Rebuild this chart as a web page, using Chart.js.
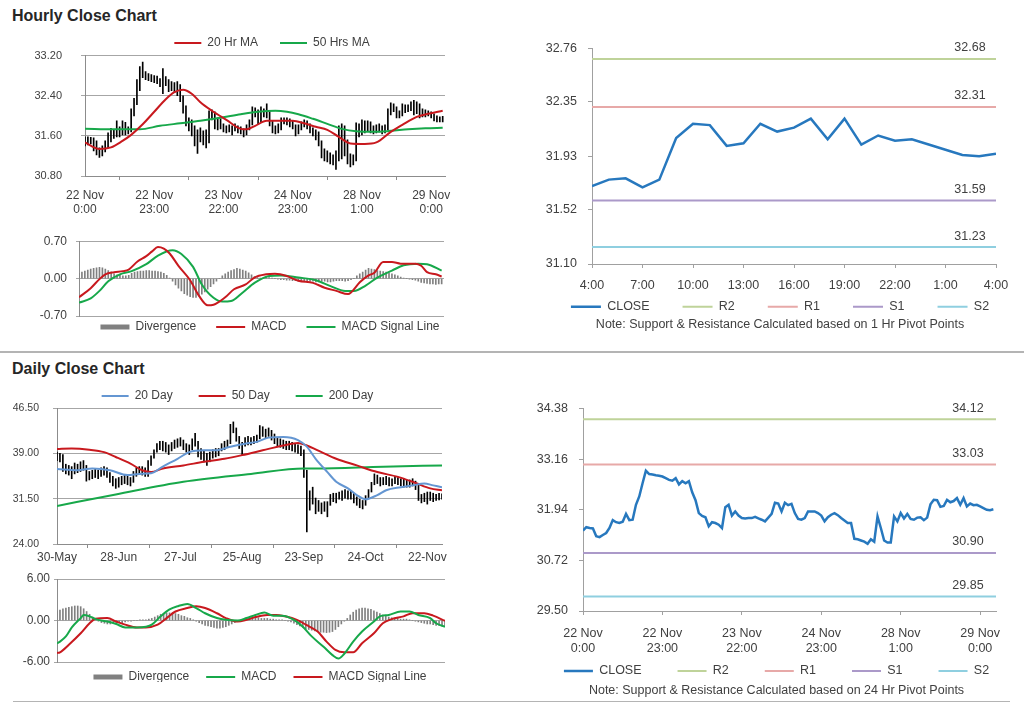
<!DOCTYPE html>
<html>
<head>
<meta charset="utf-8">
<title>Hourly and Daily Close Charts</title>
<script src="https://cdn.jsdelivr.net/npm/chart.js@4.4.1/dist/chart.umd.min.js"></script>
<style>
  body { margin: 0; background: #fff; width: 1024px; height: 706px; overflow: hidden; position: relative; font-family: 'Liberation Sans', Arial, sans-serif; }
  canvas { position: absolute; }
  .ttl { position: absolute; left: 12px; font-weight: bold; font-size: 16px; line-height: 18px; color: #262626; }
  .rule { position: absolute; height: 0; border-top: 2px solid #b4b4b4; }
</style>
</head>
<body>
<div class="ttl" style="top:7px">Hourly Close Chart</div>
<div class="rule" style="top:351px;left:0;width:1024px"></div>
<div class="ttl" style="top:360px">Daily Close Chart</div>
<div class="rule" style="top:701px;left:13px;width:997px;border-top-width:1px"></div>

<canvas id="hourPrice" width="544" height="191" style="left:0;top:30px"></canvas>
<canvas id="hourMacd" width="540" height="109" style="left:0;top:225px"></canvas>
<canvas id="lastDay" width="520" height="302" style="left:520px;top:30px"></canvas>
<canvas id="dayPrice" width="475" height="190" style="left:0;top:380px"></canvas>
<canvas id="dayMacd" width="520" height="117" style="left:0;top:565px"></canvas>
<canvas id="hourClose" width="513" height="308" style="left:520px;top:390px"></canvas>

<script>
/* ---------------- data ---------------- */

// hourly bars, 22 Nov 0:00 .. 29 Nov 4:00
var hourClose = [
  31.44,31.52,31.50,31.49,31.30,31.28,31.33,31.38,31.50,31.69,
  31.64,31.62,31.65,31.84,31.69,31.70,32.06,32.26,32.58,32.88,
  32.80,32.79,32.77,32.76,32.74,32.70,32.66,32.64,32.70,32.55,
  32.63,32.58,32.63,32.36,32.17,31.86,31.79,31.76,31.54,31.64,
  31.62,31.58,31.50,32.00,32.06,31.80,31.90,31.80,31.74,31.73,
  31.74,31.74,31.77,31.73,31.70,31.66,31.75,31.84,32.11,32.09,
  31.90,32.11,32.05,32.08,31.86,31.72,31.70,31.74,31.90,31.90,
  31.90,31.86,31.80,31.66,31.76,31.82,31.86,31.81,31.74,31.68,
  31.62,31.62,31.24,31.23,31.20,31.17,31.12,31.23,31.17,31.78,
  31.50,31.20,31.15,31.15,31.78,31.66,31.86,31.73,31.84,31.72,
  31.70,31.75,31.76,31.69,31.75,32.07,32.18,32.17,32.01,32.03,
  32.18,32.12,32.15,32.22,32.06,32.22,32.02,32.09,32.05,32.06,
  32.02,31.98,31.94,31.93,31.95
];
var hourHigh = [
  31.58,31.58,31.57,31.56,31.50,31.36,31.40,31.50,31.66,31.75,
  31.72,31.90,31.78,31.90,31.87,31.78,32.14,32.35,32.72,32.98,
  33.07,32.88,32.84,32.82,32.80,32.79,32.74,32.94,32.78,32.72,
  32.68,32.66,32.68,32.62,32.40,32.20,31.96,31.92,31.80,31.72,
  31.76,31.70,31.72,32.10,32.12,32.08,31.96,31.94,31.84,31.80,
  31.82,31.80,31.84,31.80,31.78,31.74,31.82,31.92,32.18,32.16,
  32.12,32.18,32.14,32.24,32.10,31.90,31.80,31.84,31.96,31.96,
  31.96,31.94,31.90,31.82,31.82,31.88,31.92,31.90,31.84,31.76,
  31.72,31.68,31.50,31.34,31.30,31.26,31.22,31.30,31.80,31.84,
  31.80,31.52,31.24,31.22,31.86,31.84,31.92,31.90,31.90,31.88,
  31.80,31.82,31.84,31.80,31.82,32.14,32.26,32.24,32.18,32.10,
  32.24,32.22,32.22,32.28,32.31,32.28,32.24,32.14,32.12,32.10,
  32.08,32.04,32.00,31.98,31.99
];
var hourLow = [
  31.40,31.42,31.44,31.30,31.22,31.17,31.20,31.28,31.36,31.48,
  31.55,31.58,31.58,31.62,31.62,31.64,31.68,32.00,32.22,32.50,
  32.76,32.72,32.70,32.68,32.66,32.64,32.58,32.44,32.60,32.48,
  32.50,32.46,32.40,32.28,32.05,31.80,31.70,31.60,31.40,31.25,
  31.48,31.42,31.36,31.46,31.92,31.74,31.72,31.74,31.68,31.66,
  31.68,31.62,31.70,31.66,31.64,31.58,31.62,31.72,31.82,31.98,
  31.84,31.88,31.98,31.96,31.80,31.66,31.64,31.66,31.72,31.84,
  31.82,31.78,31.74,31.60,31.64,31.72,31.78,31.74,31.66,31.60,
  31.52,31.40,31.16,31.10,31.08,31.04,31.02,30.93,31.10,31.14,
  31.20,31.04,30.98,31.02,31.10,31.58,31.62,31.66,31.70,31.66,
  31.64,31.66,31.68,31.64,31.66,31.72,32.02,32.08,31.96,31.96,
  32.00,32.06,32.08,32.10,32.02,32.04,31.96,31.98,31.98,32.00,
  31.96,31.90,31.88,31.88,31.88
];
// moving averages as [bar, value]
var ma20Hr = [[0,31.47],[5,31.34],[9,31.37],[13,31.50],[16,31.62],[20,31.83],[24,32.08],[28,32.33],
  [31,32.47],[34,32.52],[37,32.44],[40,32.27],[44,32.10],[49,31.92],[54,31.74],[56,31.73],[59,31.80],
  [63,31.90],[67,31.90],[72,31.90],[76,31.85],[80,31.78],[84,31.72],[88,31.58],[92,31.45],[97,31.44],
  [101,31.47],[106,31.68],[110,31.82],[115,31.98],[119,32.04],[124,32.10]];
var ma50Hr = [[0,31.74],[10,31.73],[19,31.73],[26,31.80],[33,31.85],[40,31.90],[47,31.96],[54,32.03],
  [60,32.08],[66,32.10],[70,32.08],[74,32.03],[79,31.94],[84,31.84],[89,31.74],[94,31.69],[100,31.68],
  [106,31.70],[112,31.73],[118,31.75],[124,31.76]];
var macdHr = [[0,-0.35],[4,-0.18],[7,-0.01],[9,0.08],[12,0.12],[15,0.14],[17,0.17],[20,0.32],[23,0.42],
  [25,0.51],[27,0.59],[29,0.56],[31,0.47],[34,0.24],[38,-0.03],[41,-0.32],[44,-0.50],[46,-0.49],[50,-0.35],
  [53,-0.20],[57,-0.11],[60,0.02],[64,0.08],[67,0.09],[71,0.05],[75,-0.04],[80,-0.08],[84,-0.17],[88,-0.23],
  [92,-0.29],[93,-0.26],[96,-0.07],[99,0.06],[101,0.11],[104,0.31],[107,0.31],[110,0.28],[115,0.28],
  [117,0.24],[119,0.12],[122,0.08],[124,0.04]];
var signalHr = [[0,-0.45],[4,-0.37],[7,-0.23],[10,-0.05],[14,0.08],[18,0.14],[23,0.27],[27,0.43],[32,0.53],
  [35,0.46],[39,0.22],[42,-0.11],[46,-0.36],[49,-0.43],[52,-0.42],[56,-0.26],[60,-0.08],[65,0.05],[69,0.06],
  [75,0.02],[81,-0.03],[86,-0.14],[91,-0.23],[94,-0.23],[98,-0.13],[102,0.02],[107,0.15],[111,0.25],
  [116,0.28],[119,0.27],[124,0.15]];
var diverHr = [
  0.10,0.12,0.14,0.16,0.18,0.19,0.20,0.21,0.20,0.18,
  0.15,0.12,0.09,0.07,0.06,0.05,0.05,0.06,0.10,0.12,
  0.13,0.14,0.14,0.15,0.15,0.14,0.14,0.13,0.12,0.10,
  0.06,0.01,-0.05,-0.12,-0.18,-0.23,-0.28,-0.31,-0.34,-0.35,
  -0.35,-0.33,-0.29,-0.25,-0.20,-0.15,-0.10,-0.05,0.00,0.05,
  0.09,0.12,0.15,0.17,0.19,0.18,0.16,0.14,0.11,0.07,
  0.04,0.02,0.01,0.01,0.02,0.02,0.01,0.00,-0.01,-0.02,
  -0.02,-0.03,-0.03,-0.04,-0.04,-0.05,-0.05,-0.04,-0.04,-0.05,
  -0.05,-0.06,-0.06,-0.05,-0.05,-0.06,-0.06,-0.05,-0.04,-0.04,
  -0.04,-0.05,-0.04,-0.02,0.00,0.05,0.09,0.12,0.16,0.19,
  0.18,0.17,0.15,0.14,0.13,0.12,0.11,0.09,0.07,0.05,
  0.03,0.01,0.00,-0.01,-0.02,-0.03,-0.05,-0.07,-0.08,-0.09,
  -0.10,-0.10,-0.11,-0.10,-0.10
];
var hourTickIdx = [0, 24, 48, 72, 96, 120];
var hourTickLabels = [['22 Nov','0:00'], ['22 Nov','23:00'], ['23 Nov','22:00'], ['24 Nov','23:00'], ['28 Nov','1:00'], ['29 Nov','0:00']];
var hourPriceTicks = [30.80, 31.60, 32.40, 33.20];
var macdHrTicks = [-0.70, 0.00, 0.70];

// last 24 hours and pivot levels
var lastDayTickIdx = [0, 3, 6, 9, 12, 15, 18, 21, 24];
var lastDayTickLabels = ['4:00','7:00','10:00','13:00','16:00','19:00','22:00','1:00','4:00'];
var lastDayTicks = [31.10, 31.52, 31.93, 32.35, 32.76];
var pivotNames = ['R2', 'R1', 'S1', 'S2'];
var pivot1Hr = [32.68, 32.31, 31.59, 31.23];
var pivot24Hr = [34.12, 33.03, 30.90, 29.85];
var hourCloseTicks = [29.50, 30.72, 31.94, 33.16, 34.38];

// daily bars, 30 May .. 29 Nov
var dayHigh = [
  39.2,39.0,38.8,37.2,37.0,36.8,37.4,37.2,37.6,37.8,
  37.0,36.0,36.2,36.4,36.2,36.6,36.8,36.6,35.8,35.2,
  34.8,35.0,35.2,35.4,35.2,35.0,36.0,36.6,36.8,36.8,
  36.6,37.8,38.6,39.6,40.6,41.0,41.0,40.8,40.4,40.8,
  41.2,41.4,41.6,41.2,40.6,40.4,41.4,42.3,41.0,39.8,
  39.4,39.0,39.2,39.6,39.8,39.8,40.6,41.0,41.2,43.8,
  44.2,43.2,41.8,40.8,41.6,41.8,41.6,41.8,42.0,43.6,
  43.4,43.0,43.2,42.8,42.2,41.6,41.4,41.2,41.0,41.0,
  40.8,40.6,40.4,40.2,39.6,36.2,32.8,33.4,31.6,31.2,
  30.8,31.0,31.0,32.2,32.4,32.4,32.6,32.8,33.0,32.8,
  32.8,32.4,31.8,31.4,31.2,32.0,33.0,34.2,35.6,35.4,
  35.0,35.0,35.2,35.0,34.8,35.2,35.0,34.8,34.8,34.6,
  34.6,34.8,34.4,33.8,32.2,32.4,32.6,32.6,32.4,32.2,
  32.4,32.3
];
var dayLow = [
  37.8,37.6,36.0,35.6,35.4,34.8,35.6,35.8,36.0,36.2,
  34.4,34.6,34.8,35.0,34.8,35.2,35.4,35.0,34.2,33.6,
  33.2,33.4,33.8,34.0,33.8,33.6,34.2,35.2,35.6,35.4,
  35.2,35.2,37.0,38.2,39.2,39.6,39.4,39.2,38.8,39.4,
  39.8,40.0,40.2,39.6,39.2,38.8,39.6,40.2,38.4,38.0,
  37.6,37.0,37.6,38.2,38.4,38.6,39.4,39.6,40.0,40.6,
  42.4,41.0,39.8,38.6,40.2,40.4,40.4,40.6,40.8,41.4,
  41.8,41.6,41.8,41.2,40.6,40.2,40.0,39.8,39.6,39.6,
  39.4,39.2,39.0,38.6,35.0,26.0,29.6,30.6,29.0,29.4,
  29.0,29.4,28.5,30.4,31.0,30.8,31.4,31.2,31.6,31.4,
  31.4,30.8,30.4,30.0,29.8,30.4,31.6,32.6,33.8,34.0,
  33.6,33.8,33.8,33.6,33.6,34.0,33.8,33.6,33.4,33.4,
  33.4,33.6,33.0,31.2,30.8,31.0,30.6,31.2,31.0,31.2,
  31.3,31.4
];
var ma20D = [[0,36.4],[7,36.2],[12,36.5],[18,36.2],[24,35.4],[28,35.6],[32,35.7],[36,36.8],[41,38.1],
  [45,39.2],[50,39.5],[54,39.5],[59,40.1],[64,40.6],[68,40.9],[72,41.6],[77,41.7],[82,41.2],[85,40.1],
  [88,38.1],[92,35.9],[95,34.3],[99,33.2],[102,32.1],[105,31.4],[109,32.1],[112,32.9],[117,33.4],
  [121,33.7],[125,34.0],[128,33.7],[131,33.4]];
var ma50D = [[0,39.7],[5,39.8],[11,39.6],[16,39.2],[20,38.4],[25,37.3],[29,36.2],[32,35.9],[36,36.5],
  [43,37.0],[50,37.6],[57,38.1],[63,38.7],[70,39.5],[77,40.3],[82,40.7],[85,40.3],[90,39.2],[95,38.1],
  [102,37.0],[109,35.9],[116,35.1],[122,34.1],[127,33.2],[131,32.9]];
var ma200D = [[0,30.3],[20,32.2],[43,34.3],[66,35.6],[84,36.5],[88,36.5],[111,36.8],[131,37.0]];
var macdD = [[0,-3.3],[1,-3.05],[3,-2.3],[5,-1.0],[8,0.35],[9,0.8],[11,0.6],[13,0.2],[17,-0.15],[20,-0.5],
  [23,-1.0],[27,-1.0],[30,-0.9],[32,-0.6],[35,0.6],[38,1.6],[41,2.1],[44,2.4],[47,1.8],[50,1.05],[54,0.35],
  [57,0.1],[61,0.0],[64,0.35],[67,0.8],[70,1.15],[73,0.7],[76,0.7],[80,0.1],[83,-0.9],[86,-2.3],[90,-3.8],
  [93,-5.0],[95,-5.5],[97,-4.8],[100,-3.05],[103,-1.6],[107,-0.15],[109,0.6],[112,0.8],[116,1.3],[119,1.3],
  [122,0.8],[126,0.35],[128,-0.4],[131,-0.9]];
var signalD = [[0,-4.7],[1,-4.6],[4,-3.5],[8,-1.85],[11,-0.4],[13,0.25],[17,0.35],[20,-0.15],[23,-0.6],
  [27,-1.0],[30,-1.0],[34,-0.6],[37,0.35],[40,1.3],[44,1.8],[47,2.05],[50,1.8],[54,1.05],[57,0.35],
  [61,-0.15],[64,0.1],[67,0.5],[71,0.8],[74,0.8],[77,0.6],[81,0.1],[84,-0.6],[88,-1.6],[91,-3.05],
  [94,-4.25],[97,-4.6],[100,-4.6],[103,-3.3],[107,-1.85],[110,-0.4],[113,0.2],[117,0.6],[120,1.05],
  [124,1.05],[127,0.7],[131,-0.05]];
var diverD = [
  1.4,1.5,1.7,1.8,1.9,2.0,2.1,2.1,2.0,1.7,
  1.3,0.9,0.5,0.2,-0.1,-0.3,-0.4,-0.5,-0.5,-0.4,
  -0.4,-0.3,-0.3,-0.2,-0.1,-0.1,0.0,0.0,0.1,0.1,
  0.1,0.2,0.3,0.5,0.7,0.9,1.0,1.1,1.1,1.1,
  1.0,0.9,0.7,0.6,0.4,0.3,0.1,-0.1,-0.3,-0.5,
  -0.7,-0.8,-0.9,-1.0,-1.1,-1.1,-1.0,-0.9,-0.7,-0.5,
  -0.3,-0.1,0.1,0.2,0.3,0.3,0.4,0.4,0.4,0.3,
  0.3,0.3,0.2,0.2,0.1,0.1,0.1,0.0,-0.1,-0.2,
  -0.4,-0.6,-0.8,-1.0,-1.2,-1.3,-1.4,-1.5,-1.6,-1.7,
  -1.7,-1.75,-1.7,-1.6,-1.3,-0.9,-0.5,-0.1,0.3,0.8,
  1.2,1.5,1.7,1.8,1.8,1.7,1.6,1.4,1.2,1.0,
  0.8,0.6,0.5,0.4,0.3,0.3,0.2,0.2,0.2,0.1,
  0.0,-0.1,-0.2,-0.3,-0.4,-0.5,-0.5,-0.6,-0.7,-0.7,
  -0.8,-0.8
];
var dayTickIdx = [0, 21, 42, 63, 84, 105, 126];
var dayTickLabels = ['30-May','28-Jun','27-Jul','25-Aug','23-Sep','24-Oct','22-Nov'];
var dayPriceTicks = [24.00, 31.50, 39.00, 46.50];
var macdDTicks = [-6.00, 0.00, 6.00];

/* ---------------- styles ---------------- */
var RED = '#c8191e', GREEN = '#17a84a', BLUE20 = '#6496d2', CLOSE_BLUE = '#2778be';
var PIVOT_COLORS = ['#bfd39a', '#e7a9a8', '#ab99c9', '#8fcfe0'];
var GRID = '#a6a6a6', AXIS = '#8c8c8c', AXIS_R = '#a0a0a0', DIV = '#808080';

Chart.defaults.font.family = "'Liberation Sans', Arial, sans-serif";
Chart.defaults.color = '#404040';
Chart.defaults.animation = false;
Chart.defaults.plugins.tooltip.enabled = false;

function pts(arr) { return arr.map(function (p) { return { x: p[0], y: p[1] }; }); }
function seq(arr) { return arr.map(function (v, i) { return { x: i, y: v }; }); }
function fixW(w) { return function (s) { s.width = w; }; }
function fixH(h) { return function (s) { s.height = h; }; }
function setTicks(arr) { return function (s) { s.ticks = arr.map(function (v) { return { value: v }; }); }; }
function fmt2(v) { return v.toFixed(2); }

function line(label, data, color, width) {
    return { label: label, data: data, borderColor: color, backgroundColor: color, borderWidth: width || 2,
             pointRadius: 0, pointStyle: 'line', cubicInterpolationMode: 'monotone' };
}

// empty axes used only to reserve space (so legends centre on the whole canvas)
function hiddenX(max) {
    return { type: 'linear', min: 0, max: max, offset: false, afterFit: fixH(0),
             ticks: { display: false }, grid: { display: false }, border: { display: false } };
}
function spacerRight(w) {
    return { axis: 'y', position: 'right', afterFit: fixW(w),
             ticks: { display: false }, grid: { display: false }, border: { display: false } };
}

// fixed legend height and text centre line
var legendPos = {
    id: 'legendPos',
    beforeLayout: function (chart, args, opts) {
        var lg = chart.legend;
        if (lg && !lg._fixed) {
            var fit = lg.fit;
            lg.fit = function () { fit.call(this); this.height = opts.height; };
            lg._fixed = true;
        }
    },
    afterLayout: function (chart, args, opts) {
        var lg = chart.legend;
        lg.top = opts.cy - lg.options.labels.padding - opts.fs / 2;
        lg.bottom = opts.cy + opts.fs;
    }
};

// value labels above the pivot lines
var levelLabels = {
    id: 'levelLabels',
    afterDatasetsDraw: function (chart, args, opts) {
        var ctx = chart.ctx, y = chart.scales.y;
        ctx.save();
        ctx.font = '12.5px ' + Chart.defaults.font.family;
        ctx.fillStyle = '#404040';
        ctx.textAlign = 'center';
        ctx.textBaseline = 'middle';
        opts.levels.forEach(function (v) {
            ctx.fillText(v.toFixed(2), chart.chartArea.right - opts.dx, y.getPixelForValue(v) - 11);
        });
        ctx.restore();
    }
};

function legendOpts(pos, boxW, pad, size, extra) {
    var o = { position: pos, labels: { usePointStyle: true, pointStyleWidth: boxW, boxHeight: 5, padding: pad,
              font: { size: size }, color: '#404040' } };
    if (extra) Object.assign(o.labels, extra);
    return o;
}
var byIndex = { sort: function (a, b) { return a.datasetIndex - b.datasetIndex; } };

/* ---------------- hourly close chart ---------------- */
new Chart(document.getElementById('hourPrice'), {
    type: 'line',
    data: {
        datasets: [
            line('20 Hr MA', pts(ma20Hr), RED),
            line('50 Hrs MA', pts(ma50Hr), GREEN),
            { type: 'bar', label: 'Price', backgroundColor: '#000', barThickness: 1,
              data: hourHigh.map(function (h, i) { return { x: i, y: [hourLow[i], h] }; }) }
        ]
    },
    options: {
        responsive: false,
        layout: { padding: 0 },
        plugins: {
            legend: legendOpts('top', 27, 22, 12, { filter: function (it) { return it.datasetIndex < 2; } }),
            legendPos: { height: 23, cy: 13, fs: 12 }
        },
        scales: {
            x: { type: 'linear', min: 0, max: 124.8, offset: false,
                 afterBuildTicks: setTicks(hourTickIdx), afterFit: fixH(45),
                 grid: { drawOnChartArea: false, tickLength: 4, color: AXIS }, border: { color: AXIS },
                 ticks: { autoSkip: false, maxRotation: 0, padding: 8, font: { size: 12 },
                          callback: function (v) { return hourTickLabels[hourTickIdx.indexOf(v)]; } } },
            y: { min: 30.8, max: 33.2, afterBuildTicks: setTicks(hourPriceTicks), afterFit: fixW(85),
                 grid: { color: GRID, tickLength: 4 }, border: { color: AXIS },
                 ticks: { padding: 19, font: { size: 11 }, callback: fmt2 } },
            yr: spacerRight(99)
        }
    },
    plugins: [legendPos]
});

new Chart(document.getElementById('hourMacd'), {
    type: 'line',
    data: {
        datasets: [
            { type: 'bar', label: 'Divergence', data: seq(diverHr), backgroundColor: DIV, barThickness: 1,
              pointStyle: 'rect', order: 3 },
            Object.assign(line('MACD', pts(macdHr), RED), { order: 1 }),
            Object.assign(line('MACD Signal Line', pts(signalHr), GREEN), { order: 2 })
        ]
    },
    options: {
        responsive: false,
        layout: { padding: { left: 0, right: 0, top: 15, bottom: 0 } },
        plugins: {
            legend: legendOpts('bottom', 29, 20, 12, byIndex),
            legendPos: { height: 18, cy: 102, fs: 12 }
        },
        scales: {
            x: hiddenX(124.8),
            y: { min: -0.7, max: 0.7, afterBuildTicks: setTicks(macdHrTicks), afterFit: fixW(79),
                 grid: { color: GRID, tickLength: 3 }, border: { color: AXIS },
                 ticks: { padding: 9, font: { size: 12 }, callback: fmt2 } },
            yr: spacerRight(96)
        }
    },
    plugins: [legendPos]
});

/* ---------------- last 24 hours with 1 hr pivots ---------------- */
function pivotSets(levels, xEnd) {
    return pivotNames.map(function (n, k) {
        return { label: n, data: [{ x: 0, y: levels[k] }, { x: xEnd, y: levels[k] }], borderColor: PIVOT_COLORS[k],
                 backgroundColor: PIVOT_COLORS[k], borderWidth: 2, pointRadius: 0, pointStyle: 'line' };
    });
}

new Chart(document.getElementById('lastDay'), {
    type: 'line',
    data: {
        datasets: [{ label: 'CLOSE', data: seq(hourClose.slice(-25)), borderColor: CLOSE_BLUE, backgroundColor: CLOSE_BLUE,
                     borderWidth: 2.5, pointRadius: 0, pointStyle: 'line' }].concat(pivotSets(pivot1Hr, 24))
    },
    options: {
        responsive: false,
        layout: { padding: { left: 0, right: 0, top: 17, bottom: 0 } },
        plugins: {
            legend: legendOpts('bottom', 30, 33, 12.5),
            legendPos: { height: 20, cy: 276.7, fs: 12.5 },
            title: { display: true, position: 'bottom', text: 'Note: Support & Resistance Calculated based on 1 Hr Pivot Points',
                     font: { size: 12.5, weight: 'normal' }, color: '#404040', padding: { top: 3, bottom: 0 } },
            levelLabels: { levels: pivot1Hr, dx: 26 }
        },
        scales: {
            x: { type: 'linear', min: 0, max: 24, afterBuildTicks: setTicks(lastDayTickIdx), afterFit: fixH(30),
                 grid: { drawOnChartArea: false, tickLength: 4, color: AXIS_R }, border: { color: AXIS_R },
                 ticks: { autoSkip: false, maxRotation: 0, padding: 10, font: { size: 12.5 },
                          callback: function (v) { return lastDayTickLabels[lastDayTickIdx.indexOf(v)]; } } },
            y: { min: 31.10, max: 32.76, afterBuildTicks: setTicks(lastDayTicks), afterFit: fixW(72),
                 grid: { drawOnChartArea: false, tickLength: 4, color: AXIS_R }, border: { color: AXIS_R },
                 ticks: { padding: 11, font: { size: 12.5 }, callback: fmt2 } },
            yr: spacerRight(44)
        }
    },
    plugins: [legendPos, levelLabels]
});

/* ---------------- daily close chart ---------------- */
new Chart(document.getElementById('dayPrice'), {
    type: 'line',
    data: {
        datasets: [
            line('20 Day', pts(ma20D), BLUE20),
            line('50 Day', pts(ma50D), RED),
            line('200 Day', pts(ma200D), GREEN),
            { type: 'bar', label: 'Price', backgroundColor: '#000', barThickness: 1,
              data: dayHigh.map(function (h, i) { return { x: i, y: [dayLow[i], h] }; }) }
        ]
    },
    options: {
        responsive: false,
        layout: { padding: 0 },
        plugins: {
            legend: legendOpts('top', 27, 26, 12, { filter: function (it) { return it.datasetIndex < 3; } }),
            legendPos: { height: 28, cy: 16, fs: 12 }
        },
        scales: {
            x: { type: 'linear', min: 0, max: 131, offset: false,
                 afterBuildTicks: setTicks(dayTickIdx), afterFit: fixH(26),
                 grid: { drawOnChartArea: false, tickLength: 4, color: AXIS }, border: { color: AXIS },
                 ticks: { autoSkip: false, maxRotation: 0, padding: 2, font: { size: 12 },
                          callback: function (v) { return dayTickLabels[dayTickIdx.indexOf(v)]; } } },
            y: { min: 24, max: 46.5, afterBuildTicks: setTicks(dayPriceTicks), afterFit: fixW(57),
                 grid: { color: GRID, tickLength: 4 }, border: { color: AXIS },
                 ticks: { padding: 14, font: { size: 10.5 }, callback: fmt2 } },
            yr: spacerRight(33)
        }
    },
    plugins: [legendPos]
});

new Chart(document.getElementById('dayMacd'), {
    type: 'line',
    data: {
        datasets: [
            { type: 'bar', label: 'Divergence', data: seq(diverD), backgroundColor: DIV, barThickness: 1,
              pointStyle: 'rect', order: 3 },
            Object.assign(line('MACD', pts(macdD), GREEN), { order: 1 }),
            Object.assign(line('MACD Signal Line', pts(signalD), RED), { order: 2 })
        ]
    },
    options: {
        responsive: false,
        layout: { padding: { left: 0, right: 0, top: 14, bottom: 0 } },
        plugins: {
            legend: legendOpts('bottom', 29, 17, 12, byIndex),
            legendPos: { height: 20, cy: 112, fs: 12 }
        },
        scales: {
            x: hiddenX(131),
            y: { min: -6, max: 6, afterBuildTicks: setTicks(macdDTicks), afterFit: fixW(57),
                 grid: { color: GRID, tickLength: 3 }, border: { color: AXIS },
                 ticks: { padding: 4, font: { size: 12 }, callback: fmt2 } },
            yr: spacerRight(75)
        }
    },
    plugins: [legendPos]
});

/* ---------------- hourly close with 24 hr pivots ---------------- */
new Chart(document.getElementById('hourClose'), {
    type: 'line',
    data: {
        datasets: [{ label: 'CLOSE', data: seq(hourClose), borderColor: CLOSE_BLUE, backgroundColor: CLOSE_BLUE,
                     borderWidth: 2.5, pointRadius: 0, pointStyle: 'line' }].concat(pivotSets(pivot24Hr, 124.8))
    },
    options: {
        responsive: false,
        layout: { padding: { left: 0, right: 0, top: 16, bottom: 0 } },
        plugins: {
            legend: legendOpts('bottom', 29, 36, 12.5),
            legendPos: { height: 20, cy: 281, fs: 12.5 },
            title: { display: true, position: 'bottom', text: 'Note: Support & Resistance Calculated based on 24 Hr Pivot Points',
                     font: { size: 12.5, weight: 'normal' }, color: '#404040', padding: { top: 7, bottom: 0 } },
            levelLabels: { levels: pivot24Hr, dx: 28 }
        },
        scales: {
            x: { type: 'linear', min: 0, max: 124.8, afterBuildTicks: setTicks(hourTickIdx), afterFit: fixH(45),
                 grid: { drawOnChartArea: false, tickLength: 4, color: AXIS_R }, border: { color: AXIS_R },
                 ticks: { autoSkip: false, maxRotation: 0, padding: 11, font: { size: 12.5 },
                          callback: function (v) { return hourTickLabels[hourTickIdx.indexOf(v)]; } } },
            y: { min: 29.5, max: 34.38, afterBuildTicks: setTicks(hourCloseTicks), afterFit: fixW(63),
                 grid: { drawOnChartArea: false, tickLength: 4, color: AXIS_R }, border: { color: AXIS_R },
                 ticks: { padding: 11, font: { size: 12.5 }, callback: fmt2 } },
            yr: spacerRight(37)
        }
    },
    plugins: [legendPos, levelLabels]
});
</script>
</body>
</html>
